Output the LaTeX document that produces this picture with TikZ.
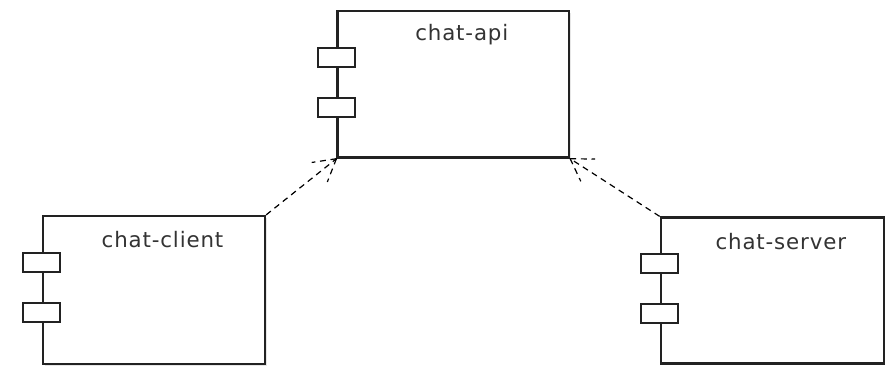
\documentclass[tikz,border=0pt]{standalone}
\usepackage{fontspec}
\setmainfont{DejaVu Sans}[LetterSpace=4]
\usetikzlibrary{calc,shadows}
\definecolor{edge}{HTML}{222222}
\definecolor{ink}{HTML}{333333}
\tikzset{
  component/.style={draw=edge, line width=1.7pt, fill=white, rectangle, inner sep=0pt,
    drop shadow={shadow xshift=1.2pt, shadow yshift=-1.2pt, opacity=0.2}},
  port/.style={draw=edge, line width=1.4pt, fill=white, rectangle, inner sep=0pt,
    minimum width=27.75pt, minimum height=14.25pt},
  title/.style={text=ink, font=\fontsize{16}{19}\selectfont, inner sep=0pt},
  depends/.style={draw=black, line width=0.9pt, dash pattern=on 4.5pt off 3.5pt},
}
\begin{document}
\begin{tikzpicture}[x=0.75pt, y=-0.75pt]
  \useasboundingbox (0,0) rectangle (886,369);

  % components
  \node[component, minimum width=173.6pt, minimum height=109.9pt] (api) at (453.3,84.3) {};
  \node[component, minimum width=166.5pt, minimum height=111pt] (client) at (154,290) {};
  \node[component, minimum width=167.3pt, minimum height=109.5pt] (server) at (772.3,290.5) {};

  % component titles
  \node[title] (apititle) at ($(api.north)+(8.5,24.5)$) {chat-api};
  \node[title] (clienttitle) at ($(client.north)+(8.5,25)$) {chat-client};
  \node[title] (servertitle) at ($(server.north)+(8.5,25)$) {chat-server};

  % interface ports on the left edge of each component
  \foreach \c in {api,client,server}{
    \node[port] (\c-p1) at ($(\c.north west)+(0,47.5)$) {};
    \node[port] (\c-p2) at ($(\c.north west)+(0,97.5)$) {};
  }

  % dependencies, with open dashed arrowheads
  \draw[depends] (client.north east) -- (api.south west);
  \draw[depends] (api.south west) -- ($(api.south west)!18.75pt!30:(client.north east)$);
  \draw[depends] (api.south west) -- ($(api.south west)!18.75pt!-30:(client.north east)$);

  \draw[depends] (server.north west) -- (api.south east);
  \draw[depends] (api.south east) -- ($(api.south east)!18.75pt!32:(server.north west)$);
  \draw[depends] (api.south east) -- ($(api.south east)!18.75pt!-32:(server.north west)$);
\end{tikzpicture}
\end{document}
